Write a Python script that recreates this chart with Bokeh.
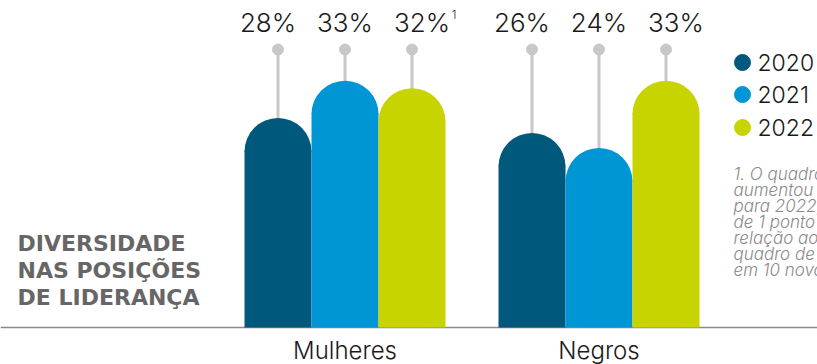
import numpy as np
from bokeh.plotting import figure
from bokeh.models import Range1d
from bokeh.core.properties import value
from bokeh.embed import file_html
from bokeh.resources import INLINE

# ---- data ----
categories = ["Mulheres", "Negros"]
years = ["2020", "2021", "2022"]
values_2020 = [28, 26]
values_2021 = [33, 24]
values_2022 = [32, 33]
series = [values_2020, values_2021, values_2022]
colors = ["#00587c", "#0096d6", "#c8d400"]
title_lines = ["DIVERSIDADE", "NAS POSIÇÕES", "DE LIDERANÇA"]
footnote_lines = ["1. O quadro", "aumentou", "para 2022,", "de 1 ponto", "relação ao", "quadro de", "em 10 novos"]

# ---- layout ----
W, H = 817, 364
PPU = 7.48          # pixels per percentage point
BASE = 327          # baseline (screen y)
BAR_W = 67
LABEL_STEP = 77
R = BAR_W / 2
FONT = "Inter Light"

def sy(y):
    return (BASE - y) / PPU

group_centers = np.array([344.5, 598.5])

p = figure(width=W, height=H, x_range=Range1d(0, W), y_range=Range1d(sy(H), sy(0)),
           output_backend="svg", toolbar_location=None, min_border=0,
           x_axis_location=None, y_axis_location=None, outline_line_color=None)
p.grid.grid_line_color = None
p.background_fill_color = "white"

# baseline
p.segment(x0=[0], y0=[0], x1=[W], y1=[0], line_color="#8a8a8a", line_width=1.5)

r_data = R / PPU
for i, vals in enumerate(series):
    xs = group_centers + (i - 1) * BAR_W
    vals = np.array(vals, dtype=float)
    p.segment(x0=xs, y0=[sy(49)] * 2, x1=xs, y1=vals - r_data, line_color="#c8c8c8", line_width=3)
    p.scatter(x=xs, y=[sy(49)] * 2, size=11, color="#c8c8c8")

for i, vals in enumerate(series):
    xs = group_centers + (i - 1) * BAR_W
    vals = np.array(vals, dtype=float)
    p.vbar(x=xs, bottom=0, top=vals - r_data + 1 / PPU, width=BAR_W, fill_color=colors[i], line_color=None)
    p.wedge(x=xs, y=vals - r_data, radius=R, radius_units="screen", start_angle=0, end_angle=np.pi,
            fill_color=colors[i], line_color=None)
    lx = group_centers + (i - 1) * LABEL_STEP
    labels = [f"{v}%" for v in series[i]]
    p.text(x=lx, y=[sy(22)] * 2, text=labels, text_align="center", text_baseline="middle",
           text_font=value(FONT), text_font_size="26px", text_color="#1a1a1a")

# superscript footnote marker on Mulheres 2022
p.text(x=[group_centers[0] + LABEL_STEP + 30], y=[sy(14)], text=["1"], text_align="left", text_baseline="middle",
       text_font=value(FONT), text_font_size="11px", text_color="#1a1a1a")

# category labels
p.text(x=group_centers, y=[sy(350)] * 2, text=categories, text_align="center", text_baseline="middle",
       text_font=value(FONT), text_font_size="24px", text_color="#1a1a1a")

# left title
p.text(x=[17] * 3, y=[sy(243), sy(270), sy(297)], text=title_lines, text_align="left", text_baseline="middle",
       text_font=value("DejaVu Sans"), text_font_style="bold", text_font_size="22px", text_color="#666666")

# legend
leg_y = [62, 94, 127]
p.scatter(x=[742] * 3, y=[sy(v) for v in leg_y], size=16, color=colors)
p.text(x=[757] * 3, y=[sy(v) for v in leg_y], text=years, text_align="left", text_baseline="middle",
       text_font=value(FONT), text_font_size="23px", text_color="#1a1a1a")

# footnote
fy = [173, 189, 205, 221, 237, 253, 269]
p.text(x=[733] * len(fy), y=[sy(v) for v in fy], text=footnote_lines, text_align="left", text_baseline="middle",
       text_font=value(FONT), text_font_style="italic", text_font_size="17px", text_color="#8a8a8a")

open("out.html", "w").write(file_html(p, INLINE))
